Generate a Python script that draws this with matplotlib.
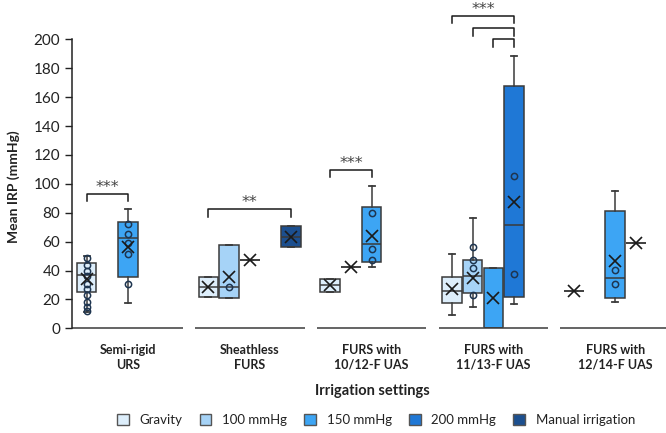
import matplotlib
matplotlib.use("Agg")
import matplotlib.pyplot as plt
import matplotlib.transforms as mtransforms
from matplotlib.patches import Patch

plt.rcParams["font.family"] = ["Lato", "DejaVu Sans"]

categories = ["Semi-rigid\nURS", "Sheathless\nFURS", "FURS with\n10/12-F UAS",
              "FURS with\n11/13-F UAS", "FURS with\n12/14-F UAS"]
settings = ["Gravity", "100 mmHg", "150 mmHg", "200 mmHg", "Manual irrigation"]
colors = ["#DDEEFB", "#A6D3F7", "#3DA5F4", "#1F78D6", "#1C4F8F"]

# Each entry: (low whisker, Q1, median, Q3, high whisker), mean, individual points
semi_rigid = {
    "Gravity": ((11.5, 25.3, 36.9, 45.4, 50.0), 34.0,
                [48.5, 44.0, 40.0, 36.0, 31.0, 27.0, 23.0, 18.5, 15.0, 12.0]),
    "150 mmHg": ((17.7, 35.7, 62.3, 73.8, 82.3), 56.5, [72.0, 65.0, 59.3, 51.4, 30.9]),
}
sheathless = {
    "Gravity": ((21.9, 21.9, 28.4, 35.7, 35.7), 28.4, []),
    "100 mmHg": ((21.0, 21.0, 28.4, 57.4, 57.4), 35.7, [28.4]),
    "150 mmHg": ((47.3, 47.3, 47.3, 47.3, 47.3), 47.3, []),
    "Manual irrigation": ((56.5, 56.5, 63.4, 70.8, 70.8), 63.4, []),
}
uas_10_12 = {
    "Gravity": ((25.3, 25.3, 29.7, 34.1, 34.1), 29.7, []),
    "100 mmHg": ((42.6, 42.6, 42.6, 42.6, 42.6), 42.6, []),
    "150 mmHg": ((42.2, 46.1, 58.3, 84.2, 98.5), 63.9, [80.0, 55.1, 47.3]),
}
uas_11_13 = {
    "Gravity": ((9.2, 17.3, 25.8, 35.3, 51.4), 27.4, []),
    "100 mmHg": ((15.0, 24.2, 36.0, 47.3, 76.1), 35.0, [56.0, 47.3, 42.0, 23.3]),
    "150 mmHg": ((0.0, 0.0, 0.0, 42.0, 42.0), 20.8, []),
    "200 mmHg": ((16.8, 21.9, 71.5, 167.7, 188.4), 87.2, [105.6, 37.6]),
}
uas_12_14 = {
    "Gravity": ((26.0, 26.0, 26.0, 26.0, 26.0), 26.0, []),
    "150 mmHg": ((18.4, 21.2, 35.0, 81.4, 95.2), 46.8, [40.3, 30.7]),
    "200 mmHg": ((58.8, 58.8, 58.8, 58.8, 58.8), 58.8, []),
}
groups = [semi_rigid, sheathless, uas_10_12, uas_11_13, uas_12_14]

# Significance brackets: (category, first setting, second setting, bar height, label)
brackets = [
    (0, "Gravity", "150 mmHg", 93.0, "***"),
    (1, "Gravity", "Manual irrigation", 82.3, "**"),
    (2, "Gravity", "150 mmHg", 109.6, "***"),
    (3, "Gravity", "200 mmHg", 216.3, "***"),
    (3, "100 mmHg", "200 mmHg", 207.6, ""),
    (3, "150 mmHg", "200 mmHg", 200.0, ""),
]

slot = 0.17
box_w = 0.16
edge = "#3A3A3A"

fig = plt.figure(figsize=(6.66, 4.33), dpi=100)
ax = fig.add_axes([72 / 666, 0.2418, 1 - 72 / 666, 0.6674])


def xpos(ci, setting):
    return ci + (settings.index(setting) - 2) * slot


for ci, group in enumerate(groups):
    for setting, (five, mean, pts) in group.items():
        x = xpos(ci, setting)
        color = colors[settings.index(setting)]
        stats = dict(whislo=five[0], q1=five[1], med=five[2], q3=five[3],
                     whishi=five[4], mean=mean, fliers=[])
        ax.bxp([stats], positions=[x], widths=box_w, capwidths=0.05,
               patch_artist=True, showmeans=True, manage_ticks=False,
               boxprops=dict(facecolor=color, edgecolor=edge, linewidth=1.1),
               medianprops=dict(color=edge, linewidth=1.1),
               whiskerprops=dict(color=edge, linewidth=1.1),
               capprops=dict(color=edge, linewidth=1.3),
               meanprops=dict(marker="x", markersize=8.5, markeredgecolor="#1A1A1A",
                              markeredgewidth=1.2, zorder=5))
        if pts:
            ax.plot([x] * len(pts), pts, "o", ms=4.5, mfc="none",
                    mec="#1E3550", mew=1.1, zorder=4)

for ci, s1, s2, h, label in brackets:
    x1, x2 = xpos(ci, s1), xpos(ci, s2)
    ax.plot([x1, x1, x2, x2], [h - 5, h, h, h - 5], color="#1A1A1A",
            lw=1.1, clip_on=False)
    if label:
        ax.text((x1 + x2) / 2, h + 4.5, label, ha="center", va="center",
                fontsize=11.5, family="DejaVu Sans", color="#444444", clip_on=False)

ax.set_ylim(0, 200)
ax.set_xlim(-0.46, 4.417)
ax.set_yticks(range(0, 201, 20))
ax.tick_params(axis="y", direction="out", length=5, width=1, labelsize=11,
               labelcolor="#222222", color="#222222")
ax.set_xticks([])
for side in ["top", "right", "bottom"]:
    ax.spines[side].set_visible(False)
ax.spines["left"].set_color("#222222")
ax.spines["left"].set_linewidth(1.1)

# Broken category axis: one baseline segment under each group
trans = mtransforms.blended_transform_factory(ax.transData, ax.transAxes)
for ci in range(len(categories)):
    left = -0.46 if ci == 0 else ci - 0.45
    ax.plot([left, ci + 0.45], [0, 0], transform=trans, color="#4A4A4A",
            lw=1.2, clip_on=False, solid_capstyle="butt")

label_trans = mtransforms.blended_transform_factory(ax.transData, fig.transFigure)
for ci, name in enumerate(categories):
    ax.text(ci, 0.1755, name, transform=label_trans, ha="center", va="center",
            fontsize=9, fontweight="bold", color="#222222", linespacing=1.3)

fig.text(372 / 666, 0.097, "Irrigation settings", ha="center", va="center",
         fontsize=10.5, fontweight="bold", color="#222222")
fig.text(14 / 666, 0.570, "Mean IRP (mmHg)", ha="center", va="center",
         rotation=90, fontsize=10, fontweight="bold", color="#222222")

handles = [Patch(facecolor=c, edgecolor="#555555", linewidth=1.0) for c in colors]
fig.legend(handles, settings, loc="center", bbox_to_anchor=(376 / 666, 13 / 433),
           ncol=5, frameon=False, fontsize=9.5, handlelength=0.9, handleheight=0.9,
           handletextpad=0.8, columnspacing=1.3, labelcolor="#222222")

fig.savefig("out.png", dpi=100)
